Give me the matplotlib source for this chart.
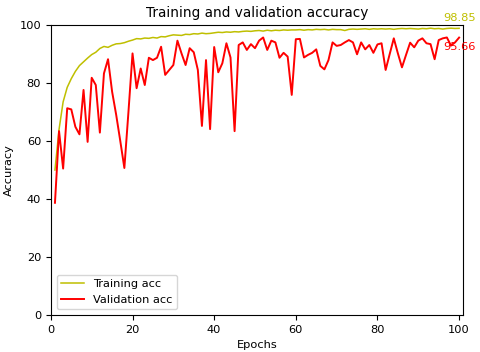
import matplotlib
matplotlib.use("Agg")
import matplotlib.pyplot as plt

epochs = list(range(1, 101))

train_acc = [
    50.0, 64.0, 73.5, 78.5, 81.5, 84.0, 86.0, 87.3, 88.6, 89.8,
    90.6, 91.9, 92.6, 92.3, 93.0, 93.5, 93.6, 93.9, 94.4, 94.8,
    95.3, 95.2, 95.5, 95.4, 95.7, 95.5, 96.0, 95.9, 96.3, 96.6,
    96.5, 96.4, 96.8, 96.7, 97.0, 96.9, 97.2, 97.0, 97.1, 97.3,
    97.5, 97.4, 97.6, 97.5, 97.7, 97.6, 97.8, 97.9, 97.8, 98.0,
    98.1, 97.9, 98.2, 98.0, 98.2, 98.1, 98.3, 98.2, 98.3, 98.3,
    98.4, 98.2, 98.4, 98.3, 98.5, 98.4, 98.5, 98.3, 98.5, 98.4,
    98.4, 98.1, 98.5, 98.6, 98.5, 98.6, 98.7, 98.5, 98.7, 98.6,
    98.7, 98.6, 98.7, 98.5, 98.7, 98.8, 98.7, 98.8, 98.7, 98.6,
    98.8, 98.7, 98.9, 98.7, 98.8, 98.6, 98.8, 98.9, 98.8, 98.85,
]

val_acc = [
    38.7, 63.4, 50.5, 71.3, 70.9, 64.9, 62.3, 77.6, 59.7, 81.8,
    79.3, 62.9, 83.3, 88.2, 77.0, 69.0, 60.0, 50.7, 70.0, 90.2,
    78.2, 85.0, 79.3, 88.7, 87.9, 88.7, 92.5, 82.8, 84.5, 86.2,
    94.6, 90.2, 86.2, 92.0, 90.6, 84.5, 65.2, 87.9, 64.1, 92.4,
    83.7, 86.8, 93.7, 88.8, 63.4, 93.1, 94.0, 91.4, 93.4, 92.0,
    94.6, 95.7, 91.4, 94.6, 94.0, 88.7, 90.4, 89.1, 75.9, 95.1,
    95.2, 88.8, 89.7, 90.4, 91.6, 85.9, 84.7, 87.9, 94.0, 92.8,
    93.1, 94.0, 94.8, 94.0, 89.9, 94.0, 91.6, 93.1, 90.4, 93.3,
    93.7, 84.5, 90.0, 95.4, 90.2, 85.4, 89.7, 93.9, 92.3, 94.6,
    95.4, 93.7, 93.4, 88.2, 94.8, 95.4, 95.7, 92.9, 94.0, 95.66,
]

plt.rcParams['font.size'] = 8.2

fig = plt.figure(figsize=(4.8, 3.52), dpi=100)
ax = fig.add_axes([0.106, 0.105, 0.859, 0.824])

ax.plot(epochs, train_acc, 'y', lw=1.1, label='Training acc')
ax.plot(epochs, val_acc, 'r', lw=1.4, label='Validation acc')

# final values
ax.text(epochs[-1], train_acc[-1] + 2.0, '%.2f' % train_acc[-1], color='y',
        ha='center', va='bottom', fontsize=8.2)
ax.text(epochs[-1], val_acc[-1] - 1.6, '%.2f' % val_acc[-1], color='r',
        ha='center', va='top', fontsize=8.2)

ax.set_xlim(0, 101)
ax.set_ylim(0, 100)
ax.set_xticks([0, 20, 40, 60, 80, 100])
ax.set_yticks([0, 20, 40, 60, 80, 100])
ax.set_title('Training and validation accuracy', fontsize=9.8)
ax.set_xlabel('Epochs')
ax.set_ylabel('Accuracy')
ax.legend(loc='lower left')

fig.savefig('out.png', dpi=100)
